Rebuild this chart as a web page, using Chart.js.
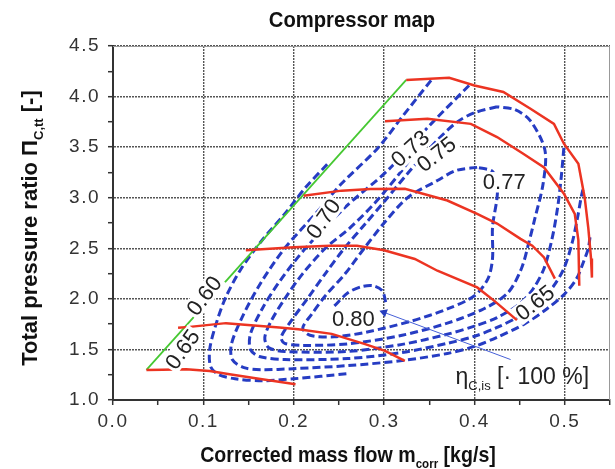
<!DOCTYPE html>
<html><head><meta charset="utf-8">
<script src="https://cdn.jsdelivr.net/npm/chart.js@4.4.0/dist/chart.umd.min.js"></script>
<style>html,body{margin:0;padding:0;background:#fff;overflow:hidden}</style>
</head><body>
<canvas id="c" width="615" height="469"></canvas>
<script>
// ---------- data ----------
const xTickValues = [0.0, 0.1, 0.2, 0.3, 0.4, 0.5];
const yTickValues = [1.0, 1.5, 2.0, 2.5, 3.0, 3.5, 4.0, 4.5];

const surgeLine = [[0.037,1.297],[0.3245,4.165]];

const speed1 = [[0.037,1.297],[0.055,1.30],[0.081,1.304],[0.107,1.287],[0.129,1.255],[0.165,1.205],[0.202,1.156]];
const speed2 = [[0.072,1.715],[0.085,1.723],[0.125,1.76],[0.184,1.717],[0.205,1.70],[0.242,1.654],[0.279,1.552],[0.301,1.486],[0.323,1.387]];
const speed3 = [[0.147,2.48],[0.20,2.51],[0.24,2.525],[0.27,2.525],[0.30,2.48],[0.334,2.394],[0.359,2.278],[0.403,2.113],[0.422,1.98],[0.447,1.79]];
const speed4 = [[0.211,3.02],[0.253,3.07],[0.285,3.085],[0.323,3.088],[0.370,2.972],[0.403,2.84],[0.425,2.745],[0.451,2.593],[0.464,2.526],[0.477,2.41],[0.489,2.2]];
const speed5 = [[0.301,3.755],[0.348,3.78],[0.396,3.73],[0.425,3.60],[0.454,3.435],[0.477,3.30],[0.499,3.04],[0.511,2.84],[0.515,2.58],[0.516,2.13]];
const speed6 = [[0.3245,4.165],[0.372,4.185],[0.40,4.11],[0.432,4.045],[0.462,3.88],[0.488,3.73],[0.499,3.534],[0.515,3.336],[0.522,3.0],[0.526,2.7],[0.529,2.4],[0.53,2.21]];

const eff60 = [[0.237,3.33],[0.213,3.10],[0.19,2.84],[0.165,2.58],[0.142,2.30],[0.125,2.02],[0.114,1.75],[0.107,1.50],[0.108,1.33],[0.117,1.25],[0.135,1.21],[0.165,1.19],[0.20,1.21],[0.26,1.26]];
const eff65 = [[0.352,4.16],[0.32,3.80],[0.293,3.49],[0.253,3.14],[0.227,2.87],[0.19,2.50],[0.163,2.15],[0.143,1.82],[0.131,1.55],[0.132,1.40],[0.145,1.32],[0.165,1.30],[0.2,1.31],[0.26,1.34],[0.32,1.39],[0.37,1.46],[0.40,1.53],[0.425,1.62],[0.455,1.75],[0.48,1.90],[0.50,2.05],[0.513,2.2],[0.52,2.35],[0.526,2.5],[0.528,2.62]];
const eff70 = [[0.394,4.11],[0.352,3.73],[0.304,3.27],[0.257,2.906],[0.213,2.50],[0.185,2.18],[0.165,1.90],[0.152,1.65],[0.152,1.50],[0.162,1.43],[0.19,1.40],[0.26,1.41],[0.32,1.47],[0.37,1.56],[0.40,1.63],[0.425,1.717],[0.45,1.83],[0.47,1.96],[0.487,2.12],[0.499,2.3],[0.508,2.55],[0.514,2.8],[0.518,3.0],[0.52,3.08]];
const eff73 = [[0.336,3.47],[0.318,3.25],[0.29,2.95],[0.262,2.7],[0.235,2.5],[0.21,2.25],[0.19,2.0],[0.175,1.78],[0.168,1.62],[0.172,1.52],[0.19,1.48],[0.26,1.48],[0.32,1.55],[0.37,1.65],[0.40,1.73],[0.425,1.815],[0.45,1.95],[0.465,2.1],[0.477,2.3],[0.486,2.6],[0.492,2.9],[0.496,3.2],[0.499,3.5]];
const eff75 = [[0.425,3.90],[0.40,3.84],[0.381,3.75],[0.359,3.57],[0.326,3.24],[0.301,2.97],[0.279,2.74],[0.256,2.5],[0.235,2.25],[0.215,2.0],[0.197,1.78],[0.186,1.62],[0.19,1.56],[0.21,1.54],[0.26,1.555],[0.32,1.64],[0.37,1.76],[0.41,1.90],[0.437,2.06],[0.452,2.3],[0.46,2.55],[0.467,2.8],[0.476,3.14],[0.478,3.47],[0.462,3.76],[0.445,3.87],[0.425,3.90]];
const eff77 = [[0.403,3.30],[0.38,3.27],[0.359,3.17],[0.326,3.0],[0.30,2.75],[0.278,2.5],[0.257,2.25],[0.235,2.03],[0.22,1.85],[0.21,1.71],[0.218,1.64],[0.245,1.625],[0.28,1.67],[0.33,1.78],[0.37,1.90],[0.40,2.03],[0.415,2.2],[0.42,2.4],[0.42,2.71],[0.425,3.0],[0.425,3.15],[0.42,3.26],[0.403,3.30]];
const eff80 = [[0.245,1.93],[0.26,2.06],[0.275,2.12],[0.288,2.13],[0.298,2.08],[0.302,1.96]];

const pointerLine = [[0.30,1.866],[0.44,1.40]];

const contourLabels = [
  {text:'0.60', x:0.101, y:2.03, rot:-53},
  {text:'0.65', x:0.077, y:1.50, rot:-55},
  {text:'0.70', x:0.233, y:2.79, rot:-55},
  {text:'0.73', x:0.329, y:3.485, rot:-42},
  {text:'0.75', x:0.358, y:3.43, rot:-38},
  {text:'0.77', x:0.433, y:3.155, rot:0},
  {text:'0.80', x:0.266, y:1.80, rot:0},
  {text:'0.65', x:0.467, y:1.96, rot:-38}
];

// ---------- styles ----------
const RED = 'rgb(236,52,34)';
const GREEN = 'rgb(70,200,50)';
const BLUE = 'rgb(38,60,195)';

const toPts = a => a.map(p => ({x:p[0], y:p[1]}));
const redSet = d => ({data:toPts(d), showLine:true, borderColor:RED, borderWidth:2.5, pointRadius:0, tension:0, fill:false});
const blueSet = d => ({data:toPts(d), showLine:true, borderColor:BLUE, borderWidth:3, borderDash:[8,4], pointRadius:0, tension:0.3, fill:false});

const datasets = [
  redSet(speed1), redSet(speed2), redSet(speed3), redSet(speed4), redSet(speed5), redSet(speed6),
  {data:toPts(surgeLine), showLine:true, borderColor:GREEN, borderWidth:1.8, pointRadius:0, fill:false},
  {data:toPts(pointerLine), showLine:true, borderColor:'rgb(70,95,215)', borderWidth:1, pointRadius:[5,0], pointStyle:'triangle', pointRotation:[-70,0], pointBackgroundColor:'rgb(40,62,190)', pointBorderWidth:0, fill:false},
  blueSet(eff60), blueSet(eff65), blueSet(eff70), blueSet(eff73), blueSet(eff75), blueSet(eff77), blueSet(eff80)
];

const isOn = (v, list) => list.some(t => Math.abs(t - v) < 1e-6);

function drawParts(ctx, parts, x, y, size, subSize, family, weight, align, sx) {
  sx = sx || 1;
  let w = 0;
  parts.forEach(p => { ctx.font = `${weight} ${p.sub?subSize:size}px ${family}`; p.w = ctx.measureText(p.t).width; w += p.w; });
  ctx.save();
  ctx.translate(x, y);
  ctx.scale(sx, 1);
  let cx = align === 'center' ? -w/2 : 0;
  ctx.textAlign = 'left';
  ctx.textBaseline = 'alphabetic';
  parts.forEach(p => {
    ctx.font = `${weight} ${p.sub?subSize:size}px ${family}`;
    ctx.fillText(p.t, cx, (p.sub ? size*0.28 : 0));
    cx += p.w;
  });
  ctx.restore();
}

const decor = {
  id:'decor',
  beforeDraw(chart){ chart.ctx.letterSpacing = '1.5px'; },
  beforeDatasetsDraw(chart){ chart.ctx.letterSpacing = '0px'; },
  afterDatasetsDraw(chart){
    const ctx = chart.ctx, xs = chart.scales.x, ys = chart.scales.y;
    ctx.save();
    ctx.letterSpacing = '0px';
    ctx.font = '22px "Liberation Sans", Arial, sans-serif';
    contourLabels.forEach(l => {
      const px = xs.getPixelForValue(l.x), py = ys.getPixelForValue(l.y);
      ctx.save();
      ctx.translate(px, py);
      ctx.rotate(l.rot*Math.PI/180);
      const w = ctx.measureText(l.text).width;
      ctx.fillStyle = '#fff';
      ctx.fillRect(-w/2-2, -10, w+4, 20);
      ctx.fillStyle = '#222';
      ctx.textAlign = 'center'; ctx.textBaseline = 'middle';
      ctx.fillText(l.text, 0, 1);
      ctx.restore();
    });
    // eta label
    ctx.fillStyle = '#222';
    const ex = xs.getPixelForValue(0.379), ey = ys.getPixelForValue(1.24) + 8;
    drawParts(ctx, [{t:'η'},{t:'C,is',sub:true},{t:' [· 100 %]'}], ex, ey, 23, 13, '"Liberation Sans", Arial, sans-serif', 'normal', 'left');
    // frame top/right
    const a = chart.chartArea;
    ctx.strokeStyle = '#999'; ctx.lineWidth = 1;
    ctx.beginPath(); ctx.moveTo(a.left, a.top+0.5); ctx.lineTo(a.right-0.5, a.top+0.5); ctx.lineTo(a.right-0.5, a.bottom); ctx.stroke();
    ctx.restore();
  },
  afterDraw(chart){
    const ctx = chart.ctx;
    ctx.save();
    ctx.letterSpacing = '0px';
    ctx.fillStyle = '#111';
    const fam = '"Liberation Sans", Arial, sans-serif';
    drawParts(ctx, [{t:'Compressor map'}], 352, 27, 22, 12, fam, 'bold', 'center', 0.92);
    drawParts(ctx, [{t:'Corrected mass flow m'},{t:'corr',sub:true},{t:' [kg/s]'}], 348, 462, 22, 13, fam, 'bold', 'center', 0.89);
    ctx.translate(37, 228);
    ctx.rotate(-Math.PI/2);
    drawParts(ctx, [{t:'Total pressure ratio Π'},{t:'C,tt',sub:true},{t:' [-]'}], 0, 0, 22, 13, fam, 'bold', 'center', 1.0);
    ctx.restore();
  }
};

new Chart(document.getElementById('c'), {
  type:'scatter',
  data:{datasets},
  options:{
    responsive:false, animation:false, devicePixelRatio:1,
    layout:{padding:{top:46, right:0, left:0, bottom:0}},
    plugins:{legend:{display:false}, tooltip:{enabled:false}, title:{display:false}},
    scales:{
      x:{type:'linear', min:0, max:0.55,
        afterFit(s){ s.height = 69; },
        ticks:{stepSize:0.05, includeBounds:false, autoSkip:false, maxRotation:0, minRotation:0, padding:5, color:'#333',
          font:{family:'"Liberation Sans", Arial, sans-serif', size:19},
          callback(v){ return isOn(v, xTickValues) ? v.toFixed(1) : ''; }},
        grid:{color(c){ return c.tick && isOn(c.tick.value, xTickValues) ? '#555' : 'rgba(0,0,0,0)'; },
          lineWidth:1.4, tickColor:'#333', tickLength:5, tickWidth:1.5},
        border:{display:true, color:'#333', width:2, dash:[2,1]}
      },
      y:{type:'linear', min:1, max:4.5,
        afterFit(s){ s.width = 113; },
        ticks:{stepSize:0.25, includeBounds:false, autoSkip:false, padding:8, color:'#333',
          font:{family:'"Liberation Sans", Arial, sans-serif', size:19},
          callback(v){ return isOn(v, yTickValues) ? v.toFixed(1) : ''; }},
        grid:{color(c){ return c.tick && isOn(c.tick.value, yTickValues) ? '#555' : 'rgba(0,0,0,0)'; },
          lineWidth:1.4, tickColor:'#333', tickLength:5, tickWidth:1.5},
        border:{display:true, color:'#333', width:2, dash:[2,1]}
      }
    }
  },
  plugins:[decor]
});
</script>
</body></html>
